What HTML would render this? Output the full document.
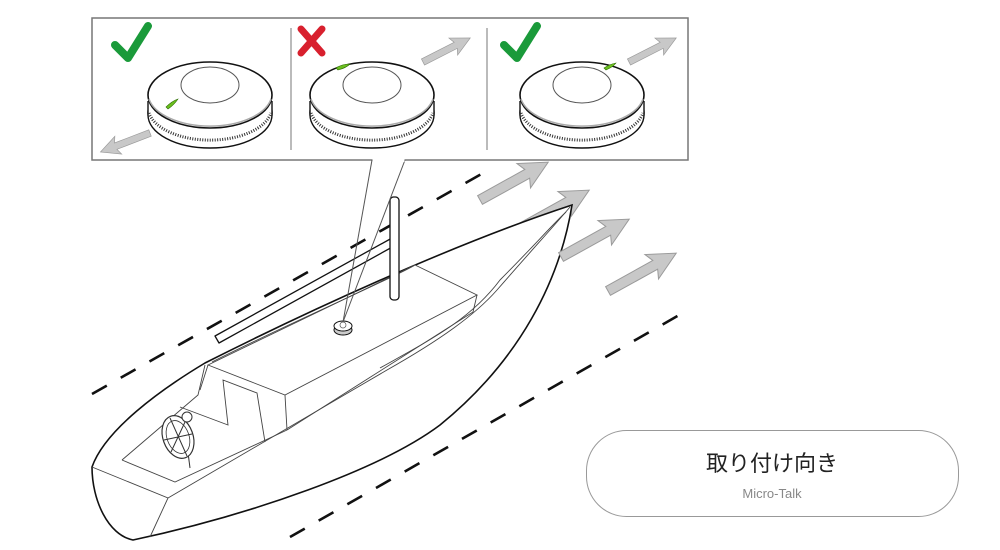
<!DOCTYPE html>
<html><head><meta charset="utf-8"><style>
html,body{margin:0;padding:0;background:#fff;width:1000px;height:550px;overflow:hidden}
svg{display:block}
</style></head><body>
<svg width="1000" height="550" viewBox="0 0 1000 550" xmlns="http://www.w3.org/2000/svg">
<defs>
<path id="arr" d="M0,-5 L54,-5 L50,-14 L78,0 L50,14 L54,5 L0,5 Z" fill="#c8c8c8" stroke="#9a9a9a" stroke-width="1"/>
<g id="dev">
 <ellipse cx="0" cy="18" rx="62" ry="33" fill="#fff" stroke="#111" stroke-width="1.6"/>
 <path d="M-62,6 L-62,20 A62,33 0 0 0 62,20 L62,6" fill="#fff" stroke="#111" stroke-width="1.4"/>
 <path d="M-61,18 A62,33 0 0 0 61,18" fill="none" stroke="#333" stroke-width="3" stroke-dasharray="1 1.5"/>
 <ellipse cx="0" cy="0" rx="62" ry="33" fill="#fff" stroke="#111" stroke-width="1.6"/>
 <path d="M-61,4 A62,33 0 0 0 61,4" fill="none" stroke="#aaa" stroke-width="1.5"/>
 <ellipse cx="0" cy="-10" rx="29" ry="18" fill="#fff" stroke="#555" stroke-width="1"/>
</g>
</defs>

<rect x="92" y="18" width="596" height="142" fill="#fff" stroke="#777" stroke-width="1.5"/>
<line x1="291" y1="28" x2="291" y2="150" stroke="#777"/>
<line x1="487" y1="28" x2="487" y2="150" stroke="#777"/>
<use href="#dev" x="210" y="95"/>
<use href="#dev" x="372" y="95"/>
<use href="#dev" x="582" y="95"/>
<path d="M166,107 q6,-6 12,-8 q-4,6 -10,10 z" fill="#6bbf1f" stroke="#2a6a00" stroke-width="0.6"/>
<path d="M336,68 q6,-4 14,-4 q-4,4 -12,6 z" fill="#6bbf1f" stroke="#2a6a00" stroke-width="0.6"/>
<path d="M604,68 q6,-4 12,-5 q-3,4 -10,7 z" fill="#6bbf1f" stroke="#2a6a00" stroke-width="0.6"/>
<path d="M115,45 L128,58 L148,26" fill="none" stroke="#1a9a3a" stroke-width="8" stroke-linecap="round" stroke-linejoin="round"/>
<path d="M504,45 L517,58 L537,26" fill="none" stroke="#1a9a3a" stroke-width="8" stroke-linecap="round" stroke-linejoin="round"/>
<path d="M301,29 L322,53 M322,29 L301,53" stroke="#d8202e" stroke-width="7" stroke-linecap="round"/>
<use href="#arr" transform="translate(150,133) rotate(159) scale(0.68)"/>
<use href="#arr" transform="translate(423,62) rotate(-27) scale(0.68)"/>
<use href="#arr" transform="translate(629,62) rotate(-27) scale(0.68)"/>

<line x1="92" y1="394" x2="492" y2="168" stroke="#111" stroke-width="2.6" stroke-dasharray="17 16"/>
<line x1="290" y1="537" x2="688" y2="310" stroke="#111" stroke-width="2.6" stroke-dasharray="17 16"/>

<use href="#arr" transform="translate(521,228) rotate(-29)"/>

<!-- hull -->
<path d="M92,467 C105,430 160,390 205,363 C300,315 450,245 572,205 C560,280 520,360 440,425 C380,470 250,515 133,540 C108,535 92,500 92,467 Z" fill="#fff" stroke="#111" stroke-width="1.6"/>
<g fill="none" stroke="#444" stroke-width="0.9">
<path d="M92,467 L168,498 L150,537"/>
<path d="M168,498 L387,370 C440,340 475,315 497,290 C530,252 555,225 570,207"/>
<path d="M122,460 L175,482 L287,430"/>
<path d="M287,430 L473,312"/>
<path d="M380,368 C430,340 470,320 500,280 C530,250 555,222 566,212"/>
<path d="M122,460 L198,395 L205,365"/>
<path d="M208,365 L415,265 L477,295 L285,395 Z" fill="#fff"/>
<path d="M285,395 L287,430 M477,295 L473,312 M208,365 L200,390"/>
<path d="M180,407 L228,425 L223,380 L257,393 L265,442"/>
<path d="M212,362 C300,318 400,275 415,265"/>
</g>
<line x1="187" y1="445" x2="190" y2="468" stroke="#333" stroke-width="1"/>
<ellipse cx="178" cy="437" rx="15" ry="22" transform="rotate(-20 178 437)" fill="#fff" stroke="#333" stroke-width="1.2"/>
<ellipse cx="178" cy="437" rx="11" ry="17" transform="rotate(-20 178 437)" fill="none" stroke="#333" stroke-width="0.8"/>
<path d="M170,418 L187,456 M164,440 L192,434 M171,452 L185,422" stroke="#333" stroke-width="1"/>
<circle cx="187" cy="417" r="5" fill="#fff" stroke="#333"/>
<path d="M215,336 L392,238 L396,245 L219,343 Z" fill="#fff" stroke="#111" stroke-width="1.3" stroke-linejoin="round"/>
<rect x="390" y="197" width="9" height="103" rx="3.5" fill="#fff" stroke="#111" stroke-width="1.3"/>
<ellipse cx="343" cy="330" rx="9" ry="5" fill="#ccc" stroke="#111"/>
<ellipse cx="343" cy="326" rx="9" ry="5" fill="#fff" stroke="#111"/>
<circle cx="343" cy="325" r="3" fill="#fff" stroke="#555" stroke-width="0.7"/>
<line x1="343" y1="322" x2="372" y2="160" stroke="#555" stroke-width="1"/>
<line x1="343" y1="322" x2="405" y2="160" stroke="#555" stroke-width="1"/>
<rect x="372.5" y="157" width="32" height="5" fill="#fff"/>

<use href="#arr" transform="translate(480,200) rotate(-29)"/>
<use href="#arr" transform="translate(561,257) rotate(-29)"/>
<use href="#arr" transform="translate(608,291) rotate(-29)"/>

<rect x="586.5" y="430.5" width="372" height="86" rx="40" fill="#fff" stroke="#999" stroke-width="1"/>
<text x="772" y="471" font-family="'Liberation Sans','Noto Sans CJK JP',sans-serif" font-size="22" fill="#222" text-anchor="middle">取り付け向き</text>
<text x="772" y="498" font-family="'Liberation Sans',sans-serif" font-size="13" fill="#888" text-anchor="middle">Micro-Talk</text>
</svg>
</body></html>
